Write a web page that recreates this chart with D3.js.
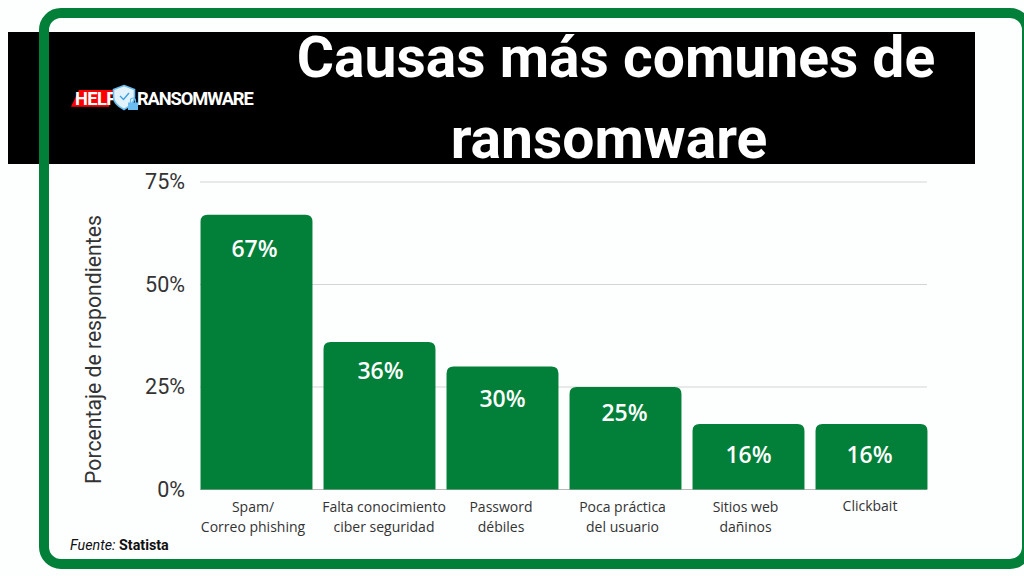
<!DOCTYPE html>
<html>
<head>
<meta charset="utf-8">
<script src="https://cdn.jsdelivr.net/npm/d3@7"></script>
<style>
  html, body { margin: 0; padding: 0; background: #fdfefe; overflow: hidden; }
  svg { display: block; }
</style>
</head>
<body>
<div id="chart"></div>
<script>
// values
const categories = [
  ["Spam/", "Correo phishing"],
  ["Falta conocimiento", "ciber seguridad"],
  ["Password", "débiles"],
  ["Poca práctica", "del usuario"],
  ["Sitios web", "dañinos"],
  ["Clickbait"]
];
const values = [67, 36, 30, 25, 16, 16];
const yTicks = [0, 25, 50, 75];
const titleLines = ["Causas más comunes de", "ransomware"];

const GREEN = "#027f38";
const width = 1024, height = 576;
const svg = d3.select("#chart").append("svg").attr("width", width).attr("height", height);

const x = d3.scaleBand().domain(d3.range(values.length)).range([195, 933]).paddingInner(0.09).paddingOuter(0.045);
const y = d3.scaleLinear().domain([0, 75]).range([489.5, 182]);

// header band
svg.append("rect").attr("x", 8).attr("y", 32).attr("width", 967).attr("height", 132).attr("fill", "#000");

// green frame, runs over the band and off the right edge
svg.append("rect").attr("x", 44).attr("y", 13).attr("width", 983).attr("height", 551).attr("rx", 17)
  .attr("fill", "none").attr("stroke", GREEN).attr("stroke-width", 10);

// second title line sits left of the first in the original
const titleX = [616, 609];
svg.append("text").attr("text-anchor", "middle").attr("font-family", "Roboto").attr("font-weight", 700)
  .attr("font-size", 57).attr("fill", "#fff")
  .selectAll("tspan").data(titleLines).enter().append("tspan")
  .attr("x", (d, i) => titleX[i]).attr("y", (d, i) => 77 + i * 81).text(d => d);

// logo
const logo = svg.append("g");
logo.append("path").attr("d", "M71 106.7L79 90H113L109 106.7Z").attr("fill", "#f00");
logo.append("text").attr("x", 75).attr("y", 105.3).attr("font-family", "Roboto").attr("font-weight", 700)
  .attr("font-size", 18.3).attr("letter-spacing", -0.6).attr("fill", "#fff").text("HELP");
logo.append("path").attr("d", "M124 85.5L134.5 89.5V97C134.5 102 130 106.5 124 109.5C118 106.5 113.5 102 113.5 97V89.5Z")
  .attr("fill", "#e3f3fd").attr("stroke", "#6bbcf0").attr("stroke-width", 1.6);
logo.append("path").attr("d", "M120 96L123.5 99.5L129 93").attr("fill", "none").attr("stroke", "#3f9fe4").attr("stroke-width", 1.4);
logo.append("path").attr("d", "M130.5 103V100.5A2.5 2.5 0 0 1 135.5 100.5V103").attr("fill", "none").attr("stroke", "#6bbcf0").attr("stroke-width", 1.2);
logo.append("rect").attr("x", 128).attr("y", 102.5).attr("width", 10).attr("height", 7.5).attr("fill", "#6bbcf0");
logo.append("text").attr("x", 137).attr("y", 105.3).attr("font-family", "Roboto").attr("font-weight", 700)
  .attr("font-size", 18.3).attr("letter-spacing", -1.1).attr("fill", "#fff").text("RANSOMWARE");

// gridlines and y axis
const yAxis = d3.axisLeft(y).tickValues(yTicks).tickSize(0).tickPadding(15).tickFormat(d => d + "%");
const yG = svg.append("g").attr("transform", "translate(200,0)").call(yAxis);
yG.select(".domain").remove();
yG.selectAll("text").attr("font-family", "Roboto").attr("font-size", 21.5).attr("fill", "#333");
svg.append("g").selectAll("line").data(yTicks).enter().append("line")
  .attr("x1", 200).attr("x2", 927).attr("y1", d => y(d)).attr("y2", d => y(d))
  .attr("stroke", d => d === 0 ? "#b8b8b8" : "#d4d4d4").attr("stroke-width", 1);

svg.append("text").attr("transform", "translate(101,349.5) rotate(-90)").attr("text-anchor", "middle")
  .attr("font-family", "Roboto").attr("font-size", 21.2).attr("fill", "#333").text("Porcentaje de respondientes");

// bars with rounded top corners
const r = 7;
const barPath = (v, i) => {
  const x0 = x(i), x1 = x(i) + x.bandwidth(), top = y(v), base = y(0);
  return `M${x0},${base}V${top + r}Q${x0},${top} ${x0 + r},${top}H${x1 - r}Q${x1},${top} ${x1},${top + r}V${base}Z`;
};
svg.append("g").selectAll("path").data(values).enter().append("path")
  .attr("d", barPath).attr("fill", GREEN);

// the value labels do not sit at one fixed distance from the bar top in the original
const valueDrop = [42, 37, 40, 33.5, 39, 39];
const valueNudge = [-2, 1, 0, -1, 0, -2];
svg.append("g").selectAll("text").data(values).enter().append("text")
  .attr("x", (d, i) => x(i) + x.bandwidth() / 2 + valueNudge[i])
  .attr("y", (d, i) => y(d) + valueDrop[i])
  .attr("text-anchor", "middle").attr("font-family", "Open Sans").attr("font-weight", 600)
  .attr("font-size", 23).attr("fill", "#fff").text(d => d + "%");

// category labels, they are not quite centred on their bars in the original
const labelNudge = [-3.5, 4.5, -1.5, -3, -3, -1.5];
const labelRaise = [0, 0, 0, 0, 0, 1];
const labels = svg.append("g").selectAll("text").data(categories).enter().append("text")
  .attr("text-anchor", "middle").attr("font-family", "Open Sans").attr("font-size", 14).attr("fill", "#333");
labels.selectAll("tspan").data((d, i) => d.map(t => ({ t, i }))).enter().append("tspan")
  .attr("x", d => x(d.i) + x.bandwidth() / 2 + labelNudge[d.i])
  .attr("y", (d, j) => 512 - labelRaise[d.i] + j * 20).text(d => d.t);

// source note
const note = svg.append("text").attr("x", 70).attr("y", 550).attr("font-family", "Roboto").attr("font-size", 14.3).attr("fill", "#111");
note.append("tspan").attr("font-style", "italic").text("Fuente: ");
note.append("tspan").attr("font-weight", 700).text("Statista");
</script>
</body>
</html>
